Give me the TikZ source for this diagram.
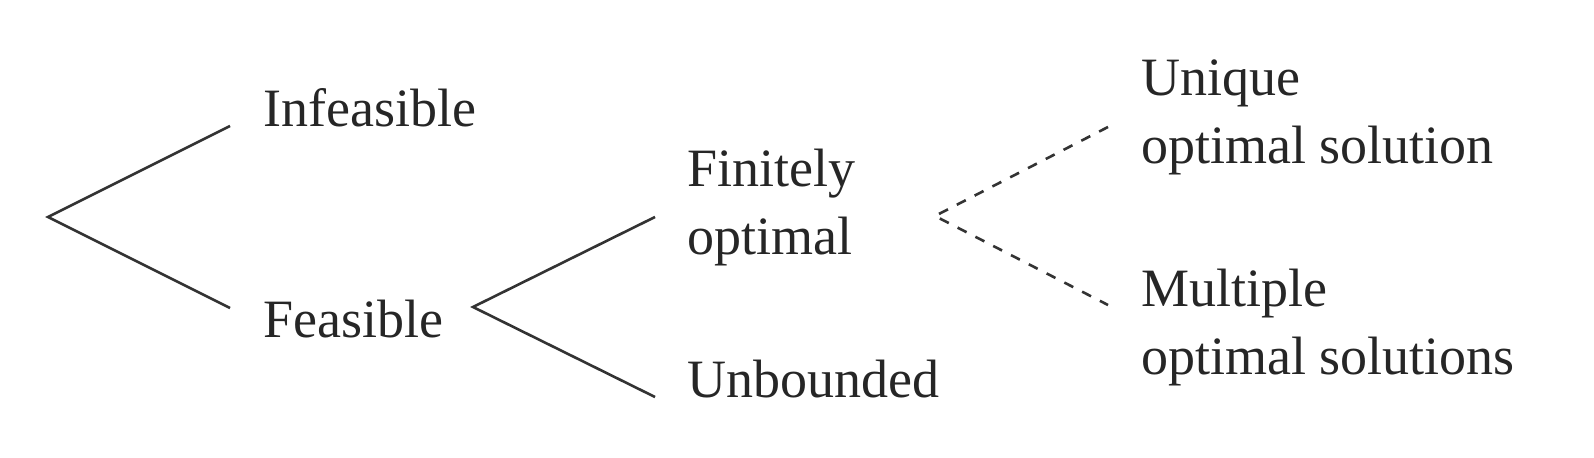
\documentclass[tikz,border=0pt]{standalone}
\usepackage{fontspec}
\setmainfont{Liberation Serif}
\begin{document}
\begin{tikzpicture}[
  x=0.5pt,y=-0.5pt,
  font=\fontsize{27}{34}\selectfont,
  lbl/.style={anchor=base west,inner sep=0pt,align=left,text=black!85},
  br/.style={line width=1.3pt,draw=black!80},
  dbr/.style={br,dash pattern=on 5pt off 5pt}
]
\useasboundingbox (0,0) rectangle (1594,458);

% labels (base = last line)
\node[lbl] (infeas) at (263,127) {Infeasible};
\node[lbl] (feas)   at (263,338) {Feasible};
\node[lbl] (finite) at (687,255) {Finitely\\optimal};
\node[lbl] (unbd)   at (687,398) {Unbounded};
\node[lbl] (uniq)   at (1141,164) {Unique\\optimal solution};
\node[lbl] (multi)  at (1141,375) {Multiple\\optimal solutions};

% branch points
\coordinate (rt)  at (48,217);
\coordinate (fs)  at (473,307);
\coordinate (fo)  at (935,216);
\coordinate (rt-a) at (230,126);
\coordinate (rt-b) at (230,308);
\coordinate (fs-a) at (655,217);
\coordinate (fs-b) at (655,397);
\coordinate (fo-a) at (1108,127);
\coordinate (fo-b) at (1108,305);

% branches
\draw[br] (rt-a) -- (rt) -- (rt-b);
\draw[br] (fs-a) -- (fs) -- (fs-b);
\draw[dbr] (fo-a) -- (fo) -- (fo-b);
\end{tikzpicture}
\end{document}
